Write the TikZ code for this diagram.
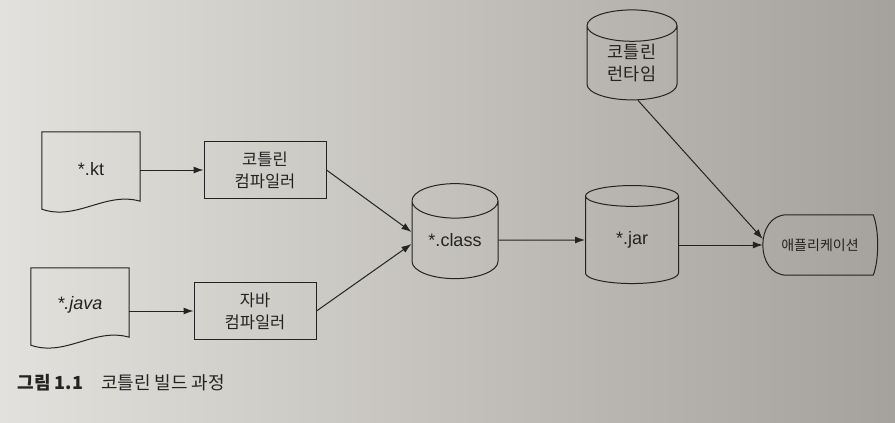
\documentclass[tikz,border=0pt]{standalone}
\usepackage{fontspec}
\setmainfont{Liberation Sans}
\newfontfamily\kr{Noto Sans CJK KR}
\usetikzlibrary{arrows.meta, positioning, shapes.geometric}

\definecolor{paper}{RGB}{226,225,221}
\definecolor{papermid}{RGB}{210,208,203}
\definecolor{paperdark}{RGB}{165,161,155}
\definecolor{ink}{RGB}{35,35,35}

\begin{document}
\begin{tikzpicture}[
    x=1pt, y=-1pt,
    every node/.style={font=\fontsize{18}{22}\selectfont, text=ink},
    line/.style={draw=ink, line width=1pt},
    docnode/.style={minimum width=98pt, minimum height=74pt, inner sep=0pt},
    compiler/.style={line, rectangle, minimum width=122pt, minimum height=57pt, align=center, inner sep=0pt,
        font=\kr\fontsize{16.5}{22}\selectfont},
    store/.style={line, cylinder, shape border rotate=90, aspect=0.65, align=center, inner sep=0pt},
    flow/.style={line, -{Latex[length=10pt, width=7pt]}},
]

% Page
\shade[left color=paper, middle color=papermid, right color=paperdark, shading angle=90]
    (0,0) rectangle (895,423);
\useasboundingbox (0,0) rectangle (895,423);

% Source files
\node[docnode] (kt) at (91,169) {*.kt};
\node[docnode] (java) at (80,305) {\itshape *.java};
\draw[line] (kt.north west) -- (kt.north east) -- ([yshift=5pt]kt.south east)
    .. controls +(-35pt,10pt) and +(35pt,-12pt) .. ([yshift=-3pt]kt.south west) -- cycle;
\draw[line] (java.north west) -- (java.north east) -- ([yshift=5pt]java.south east)
    .. controls +(-35pt,10pt) and +(35pt,-12pt) .. ([yshift=-3pt]java.south west) -- cycle;

% Compilers
\node[compiler] (ktc) at (265,170) {코틀린\\컴파일러};
\node[compiler] (javac) at (255,311) {자바\\컴파일러};

% Storage
\node[store, minimum width=86pt, minimum height=95pt] (cls) at (455,240) {*.class};
\node[store, minimum width=93pt, minimum height=98pt] (jar) at (632,240) {*.jar};
\node[store, minimum width=90pt, minimum height=90pt, font=\kr\fontsize{17.5}{22}\selectfont] (rt) at (632,63) {코틀린\\런타임};

% Application
\node[minimum width=114pt, minimum height=60pt, inner sep=0pt, font=\kr\fontsize{14}{17}\selectfont] (app) at (820,245) {애플리케이션};
\draw[line] ([xshift=24pt]app.north west) -- ([xshift=-4pt]app.north east)
    .. controls +(6pt,-15pt) and +(6pt,15pt) .. ([xshift=-4pt]app.south east)
    -- ([xshift=24pt]app.south west)
    .. controls +(-32pt,0pt) and +(-32pt,0pt) .. cycle;

% Arrows
\draw[flow] (kt.east |- ktc.west) -- (ktc.west);
\draw[flow] (java.east |- javac.west) -- (javac.west);
\draw[flow] (ktc.east) -- ([yshift=8pt]cls.west);
\draw[flow] (javac.east) -- ([yshift=-4pt]cls.west);
\draw[flow] (cls.east) -- (jar.west);
\draw[flow] (jar.east |- app.west) -- (app.west);
\draw[flow] ([xshift=6pt]rt.south) -- ([yshift=6pt]app.west);

% Caption
\node[anchor=west, font=\kr\fontsize{18}{21}\selectfont] (cap) at (14,383)
    {\bfseries 그림 1.1\quad\mdseries 코틀린 빌드 과정};

\end{tikzpicture}
\end{document}
